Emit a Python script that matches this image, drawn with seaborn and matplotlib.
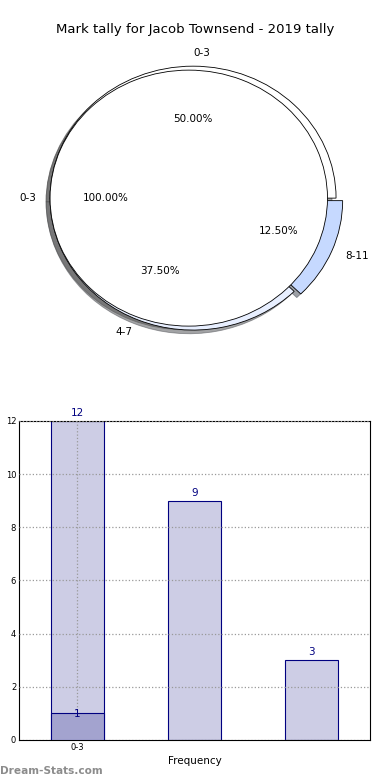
import matplotlib
matplotlib.use("Agg")
import matplotlib.pyplot as plt
import seaborn as sns

# data
cats = ["0-3", "4-7", "8-11"]
tally = [12, 9, 3]
inner_cats = ["0-3"]
inner_tally = [1]
ring_colors = ["#ffffff", "#e8efff", "#c6d9ff"]
explode = [0, 0, 0.05]

sns.set_style("white")
plt.rcParams["font.family"] = ["DejaVu Sans"]
plt.rcParams["text.color"] = "black"
plt.rcParams["xtick.color"] = "black"
plt.rcParams["ytick.color"] = "black"
plt.rcParams["axes.labelcolor"] = "black"

fig = plt.figure(figsize=(3.9, 7.8), dpi=100)
fig.text(0.5, 1 - 30 / 780, "Mark tally for Jacob Townsend - 2019 tally",
         ha="center", va="center", fontsize=9.5)

# pie part
ax1 = fig.add_axes([0.055, 0.543, 0.88, 0.406])
wedges, texts, autotexts = ax1.pie(
    tally, labels=cats, colors=ring_colors, startangle=0, explode=explode,
    autopct="%.2f%%", pctdistance=0.6, labeldistance=1.1, shadow=True,
    radius=1.0, wedgeprops=dict(edgecolor="black", linewidth=0.6),
    textprops=dict(fontsize=7.5))
texts[0].set_ha("left")
ax1.pie(inner_tally, labels=inner_cats, colors=["#ffffff"], startangle=0,
        explode=[0.03], autopct="%.2f%%", pctdistance=0.6, labeldistance=1.1,
        shadow=True, radius=0.97, wedgeprops=dict(edgecolor="black", linewidth=0.6),
        textprops=dict(fontsize=7.5))
ax1.set_aspect("auto")
ax1.set_xlim(-1.2, 1.2)
ax1.set_ylim(-1.2, 1.2)
ax1.axis("off")

# bar part
ax2 = fig.add_axes([0.0487, 0.0513, 0.9, 0.409])
sns.barplot(x=cats, y=tally, order=cats, ax=ax2, width=0.45, color="#cdcde5",
            saturation=1, edgecolor="#000080", linewidth=0.8, zorder=2)
sns.barplot(x=inner_cats, y=inner_tally, order=cats, ax=ax2, width=0.45,
            color="#a3a3cf", saturation=1, edgecolor="#000080", linewidth=0.8, zorder=3)

for i, v in enumerate(tally):
    ax2.text(i, v + 0.12, str(v), ha="center", va="bottom", fontsize=7.5, color="#000080")
for i, v in enumerate(inner_tally):
    ax2.text(i, v - 0.2, str(v), ha="center", va="bottom", fontsize=7.5, color="#000080", zorder=5)

ax2.set_xlim(-0.5, 2.5)
ax2.set_ylim(0, 12)
ax2.set_yticks(range(0, 13, 2))
ax2.set_xticks([0])
ax2.set_xticklabels(["0-3"])
ax2.tick_params(axis="both", labelsize=6, length=3, direction="in", pad=2)
ax2.grid(True, linestyle=":", color="#999999", linewidth=0.9, zorder=0)
ax2.set_axisbelow(False)
for s in ax2.spines.values():
    s.set_color("black")
    s.set_linewidth(0.8)
ax2.set_xlabel("Frequency", fontsize=7.5, labelpad=3)
ax2.set_ylabel("Scores in Tally", fontsize=6.5, labelpad=6)

fig.text(0.0, 1 - 771 / 780, "Dream-Stats.com", ha="left", va="center",
         fontsize=7.6, color="#8c8c8c", fontweight="bold")

fig.savefig("out.png", dpi=100)
